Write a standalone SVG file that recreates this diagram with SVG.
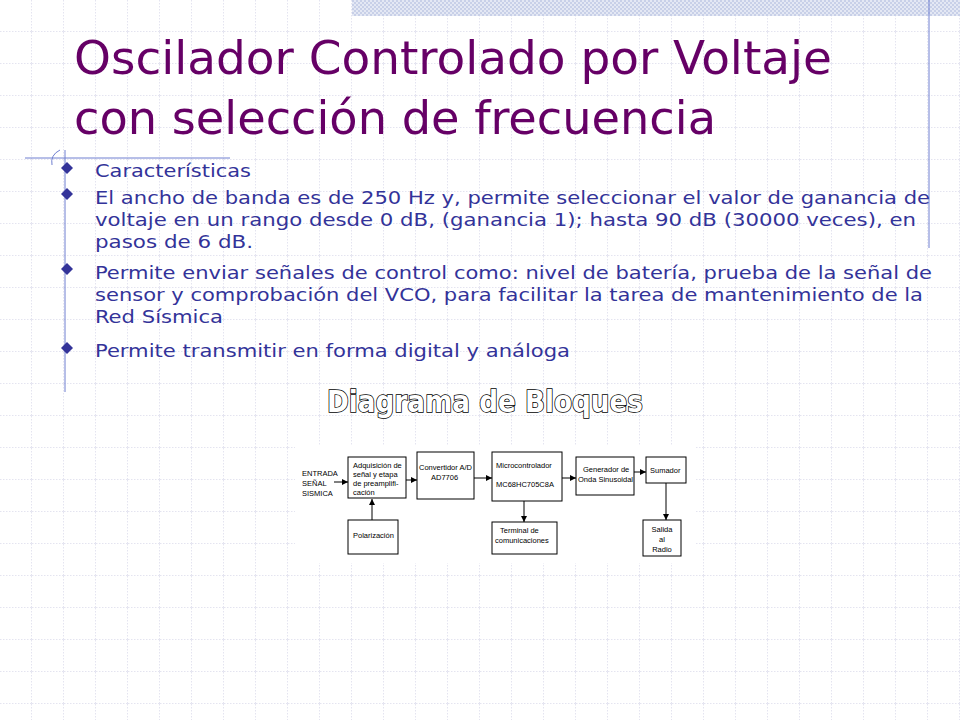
<svg xmlns="http://www.w3.org/2000/svg" width="960" height="720" viewBox="0 0 960 720">
<defs>
<pattern id="grid" width="32" height="32" patternUnits="userSpaceOnUse">
<path d="M32 0V32M0 32H32" stroke="#c8c8e0" stroke-width="1" stroke-dasharray="1.5 1.5" fill="none"/>
</pattern>
<pattern id="hatch" width="4" height="4" patternUnits="userSpaceOnUse">
<rect width="4" height="4" fill="#e4e8f4"/><rect width="2" height="2" fill="#c8d0e8"/><rect x="2" y="2" width="2" height="2" fill="#c8d0e8"/>
</pattern>
<marker id="ar" markerWidth="6" markerHeight="6" refX="6" refY="3" orient="auto"><path d="M0 0L6 3L0 6z" fill="#000"/></marker>
<style>
.t{font-family:"Liberation Sans",Arial,sans-serif;font-size:7.5px;fill:#000}
.b{fill:#fff;stroke:#000;stroke-width:1}
.c{stroke:#000;stroke-width:1;fill:none;marker-end:url(#ar)}
.bt{font-family:"DejaVu Sans Condensed","DejaVu Sans",sans-serif;font-size:18px;fill:#333399}
</style>
</defs>
<rect width="960" height="720" fill="#fff"/>
<rect width="960" height="720" fill="url(#grid)"/>
<rect x="352" y="0" width="608" height="16" fill="url(#hatch)"/>
<line x1="929" y1="0" x2="929" y2="248" stroke="#6f7fd0" stroke-width="1"/>
<line x1="65" y1="150" x2="65" y2="392" stroke="#6f7fd0" stroke-width="1"/>
<line x1="25" y1="158" x2="230" y2="158" stroke="#6f7fd0" stroke-width="1"/>
<path d="M60 150 Q50 155 52 165" stroke="#6f7fd0" fill="none"/>
<text font-family="'DejaVu Sans Condensed','DejaVu Sans',sans-serif" font-size="47" fill="#660066"><tspan x="74" y="74" textLength="758" lengthAdjust="spacingAndGlyphs">Oscilador Controlado por Voltaje</tspan></text>
<text font-family="'DejaVu Sans Condensed','DejaVu Sans',sans-serif" font-size="47" fill="#660066"><tspan x="74" y="134" textLength="642" lengthAdjust="spacingAndGlyphs">con selección de frecuencia</tspan></text>
<g fill="#333399">
<path d="M67 162l6 6-6 6-6-6z"/><path d="M67 188l6 6-6 6-6-6z"/><path d="M67 263l6 6-6 6-6-6z"/><path d="M67 342l6 6-6 6-6-6z"/>
</g>
<g class="bt">
<text x="95" y="177" textLength="156" lengthAdjust="spacingAndGlyphs">Características</text>
<text x="95" y="204" textLength="835" lengthAdjust="spacingAndGlyphs">El ancho de banda es de 250 Hz y, permite seleccionar el valor de ganancia de</text>
<text x="95" y="226" textLength="821" lengthAdjust="spacingAndGlyphs">voltaje en un rango desde 0 dB, (ganancia 1); hasta 90 dB (30000 veces), en</text>
<text x="95" y="248" textLength="158" lengthAdjust="spacingAndGlyphs">pasos de 6 dB.</text>
<text x="95" y="279" textLength="837" lengthAdjust="spacingAndGlyphs">Permite enviar señales de control como: nivel de batería, prueba de la señal de</text>
<text x="95" y="301" textLength="828" lengthAdjust="spacingAndGlyphs">sensor y comprobación del VCO, para facilitar la tarea de mantenimiento de la</text>
<text x="95" y="323" textLength="128" lengthAdjust="spacingAndGlyphs">Red Sísmica</text>
<text x="95" y="357" textLength="475" lengthAdjust="spacingAndGlyphs">Permite transmitir en forma digital y análoga</text>
</g>
<text x="485" y="412" text-anchor="middle" font-family="'DejaVu Sans Condensed','DejaVu Sans',sans-serif" font-weight="bold" font-size="30" fill="#fff" stroke="#000" stroke-width="1.5" paint-order="stroke" textLength="316" lengthAdjust="spacingAndGlyphs">Diagrama de Bloques</text>
<rect x="295" y="445" width="400" height="118" fill="#fff"/>
<g id="entrada"><text class="t"><tspan x="302" y="476">ENTRADA</tspan><tspan x="302" y="486">SEÑAL</tspan><tspan x="302" y="496">SISMICA</tspan></text></g>
<g id="adq"><rect class="b" x="348" y="457" width="58" height="41"/><text class="t"><tspan x="353" y="468">Adquisición de</tspan><tspan x="353" y="477">señal y etapa</tspan><tspan x="353" y="486">de preamplifi-</tspan><tspan x="353" y="495">cación</tspan></text></g>
<g id="pol"><rect class="b" x="348" y="520" width="50" height="34"/><text class="t" x="353" y="538">Polarización</text></g>
<g id="conv"><rect class="b" x="417" y="452" width="57" height="47"/><text class="t"><tspan x="419" y="470">Convertidor A/D</tspan><tspan x="431" y="480">AD7706</tspan></text></g>
<g id="micro"><rect class="b" x="492" y="452" width="70" height="49"/><text class="t"><tspan x="496" y="468">Microcontrolador</tspan><tspan x="496" y="487">MC68HC705C8A</tspan></text></g>
<g id="term"><rect class="b" x="492" y="522" width="65" height="32"/><text class="t"><tspan x="500" y="533">Terminal de</tspan><tspan x="495" y="543">comunicaciones</tspan></text></g>
<g id="gen"><rect class="b" x="576" y="457" width="58" height="38"/><text class="t"><tspan x="583" y="472">Generador de</tspan><tspan x="578" y="482">Onda Sinusoidal</tspan></text></g>
<g id="sum"><rect class="b" x="646" y="457" width="40" height="26"/><text class="t" x="650" y="473">Sumador</text></g>
<g id="sal"><rect class="b" x="643" y="520" width="38" height="36"/><text class="t" text-anchor="middle"><tspan x="662" y="532">Salida</tspan><tspan x="662" y="542">al</tspan><tspan x="662" y="552">Radio</tspan></text></g>
<g id="connectors">
<path class="c" d="M334 482H348"/>
<path class="c" d="M406 480H417"/>
<path class="c" d="M474 478H492"/>
<path class="c" d="M562 478H576"/>
<path class="c" d="M634 472H646"/>
<path class="c" d="M372 520V499"/>
<path class="c" d="M524 501V522"/>
<path class="c" d="M666 483V520"/>
</g>
</svg>
